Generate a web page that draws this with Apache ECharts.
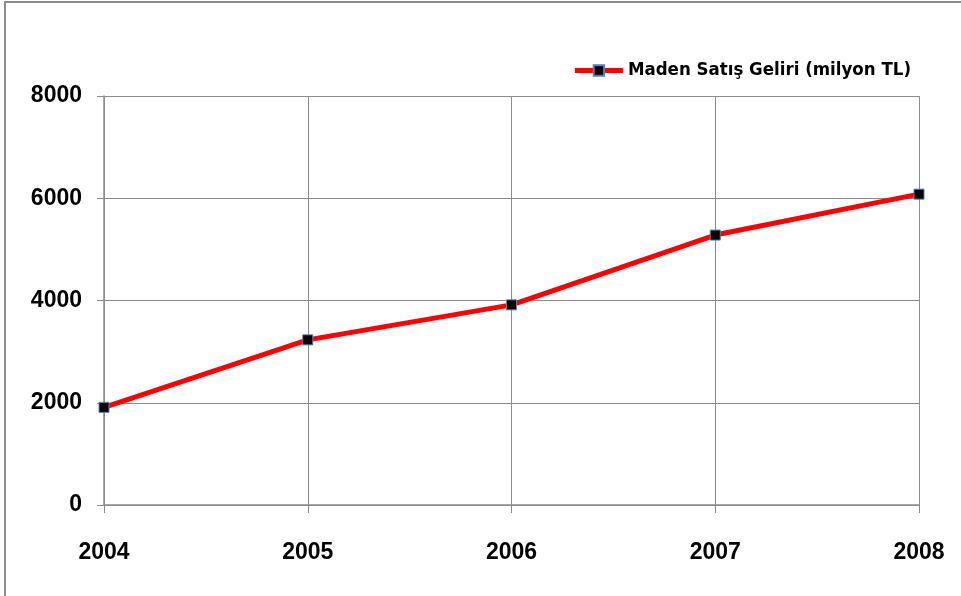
<!DOCTYPE html>
<html>
<head>
<meta charset="utf-8">
<script src="https://cdn.jsdelivr.net/npm/echarts@6/dist/echarts.min.js"></script>
<style>
  html, body { margin: 0; padding: 0; background: #fff; }
  #chart { width: 961px; height: 596px; }
</style>
</head>
<body>
<div id="chart"></div>
<script>
// yillar ve maden satis geliri (milyon TL)
var acYears = ['2004', '2005', '2006', '2007', '2008'];
var adRevenue = [1910, 3230, 3915, 5280, 6080];
var cSeriesName = 'Maden Satış Geliri (milyon TL)';

var cAxisFont = '"Liberation Sans", Arial, sans-serif';
var cLegendFont = '"DejaVu Sans Condensed", "DejaVu Sans", sans-serif';

var oChart = echarts.init(document.getElementById('chart'));

var oOption = {
    animation: false,
    backgroundColor: '#fff',
    // cerceve: sadece sol ve ust kenar gorunuyor
    graphic: [{
        type: 'rect',
        shape: { x: 5, y: 2, width: 1000, height: 700 },
        style: { fill: 'none', stroke: '#8c8c8c', lineWidth: 2 },
        silent: true
    }],
    legend: {
        data: [cSeriesName],
        right: 45,
        top: 56,
        itemWidth: 48,
        itemHeight: 13,
        itemGap: 4,
        lineStyle: { width: 5 },
        textStyle: { fontFamily: cLegendFont, fontSize: 18.5, fontWeight: 'bold', color: '#000' }
    },
    grid: {
        left: 104,
        right: 42,
        top: 96,
        bottom: 91
    },
    xAxis: {
        type: 'category',
        boundaryGap: false,
        data: acYears,
        axisLine: { show: true, lineStyle: { color: '#8c8c8c', width: 1.5 } },
        axisTick: { show: true, alignWithLabel: true, length: 8, lineStyle: { color: '#8c8c8c' } },
        splitLine: { show: true, lineStyle: { color: '#8c8c8c', width: 1 } },
        axisLabel: {
            margin: 36,
            fontFamily: cAxisFont,
            fontSize: 23,
            fontWeight: 'bold',
            color: '#000'
        }
    },
    yAxis: {
        type: 'value',
        min: 0,
        max: 8000,
        interval: 2000,
        axisLine: { show: true, lineStyle: { color: '#8c8c8c', width: 1.5 } },
        axisTick: { show: true, length: 7, lineStyle: { color: '#8c8c8c' } },
        splitLine: { show: true, lineStyle: { color: '#8c8c8c', width: 1 } },
        axisLabel: {
            margin: 22,
            formatter: function (v) { return String(v); },
            fontFamily: cAxisFont,
            fontSize: 23,
            fontWeight: 'bold',
            color: '#000'
        }
    },
    series: [{
        name: cSeriesName,
        type: 'line',
        data: adRevenue,
        symbol: 'rect',
        symbolSize: 10,
        lineStyle: { color: '#ff0000', width: 5 },
        itemStyle: { color: '#000', borderColor: '#4f81bd', borderWidth: 1 }
    }]
};

oChart.setOption(oOption, true);
</script>
</body>
</html>
